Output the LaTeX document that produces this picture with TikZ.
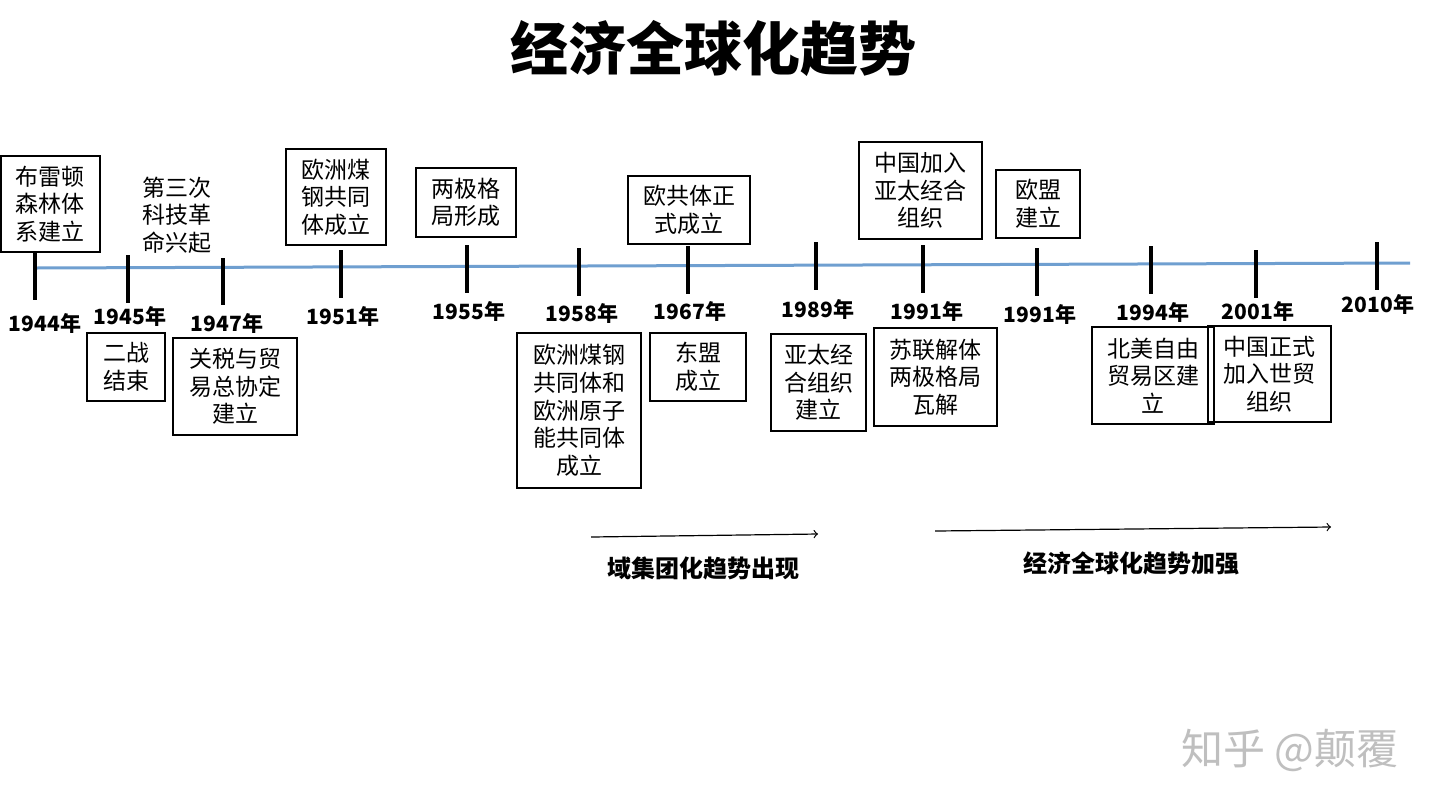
\documentclass[tikz,border=0pt]{standalone}
\usepackage{fontspec}
\setmainfont{Noto Sans CJK SC}
\begin{document}
\begin{tikzpicture}[x=0.5pt,y=-0.5pt,
  bx/.style={draw,thick,align=center,inner sep=0pt,font=\fontsize{11.5}{13.8}\selectfont},
  yr/.style={font=\bfseries\fontsize{10.5}{12}\selectfont},
  tk/.style={line width=1.6pt},
  lb/.style={font=\bfseries\fontsize{12}{13}\selectfont}]
\useasboundingbox[fill=white] (0,0) rectangle (1440,810);
\node[font=\bfseries\fontsize{29}{32}\selectfont] (title) at (713,48) {经济全球化趋势};
\coordinate (L0) at (35,268); \coordinate (L1) at (1410,263);
\draw[line width=1.5pt,color={rgb,255:red,111;green,159;blue,208}] (L0) -- (L1);
\foreach \n/\x/\t/\b/\lx/\ly/\yy in {a/35/253/300/45/323/1944,b/128/255/303/130/316/1945,c/223/258/305/227/323/1947,d/341/250/298/343/316/1951,e/467/245/293/469/311/1955,f/579/248/296/582/313/1958,g/688/246/294/690/311/1967,h/816/242/290/818/309/1989,i/923/245/293/927/311/1991,j/1037/248/296/1040/314/1991,k/1151/246/294/1153/312/1994,l/1256/250/298/1258/311/2001,m/1377/242/290/1378/304/2010}{
  \coordinate (t\n) at (\x,\t); \coordinate (u\n) at (\x,\b);
  \draw[tk] (t\n) -- (u\n);
  \node[yr] (y\n) at (\lx,\ly) {\yy 年};
}
\newcommand{\bxn}[6]{\node[bx,minimum width={(#4-#2)*0.5pt},minimum height={(#5-#3)*0.5pt}] (#1) at ({(#2+#4)/2},{(#3+#5)/2}) {#6};}
\bxn{b1}{1}{156}{100}{252}{布雷顿\\森林体\\系建立}
\node[font=\fontsize{11.5}{13.8}\selectfont,align=center] (b2) at (177,215) {第三次\\科技革\\命兴起};
\bxn{b3}{286}{149}{386}{245}{欧洲煤\\钢共同\\体成立}
\bxn{b4}{416}{168}{516}{237}{两极格\\局形成}
\bxn{b5}{628}{176}{750}{244}{欧共体正\\式成立}
\bxn{b6}{859}{142}{982}{239}{中国加入\\亚太经合\\组织}
\bxn{b7}{996}{170}{1080}{238}{欧盟\\建立}
\bxn{c1}{87}{333}{165}{401}{二战\\结束}
\bxn{c2}{173}{338}{297}{435}{关税与贸\\易总协定\\建立}
\bxn{c3}{517}{333}{641}{488}{欧洲煤钢\\共同体和\\欧洲原子\\能共同体\\成立}
\bxn{c4}{650}{333}{746}{401}{东盟\\成立}
\bxn{c5}{771}{334}{866}{431}{亚太经\\合组织\\建立}
\bxn{c6}{874}{328}{997}{426}{苏联解体\\两极格局\\瓦解}
\bxn{c7}{1092}{327}{1214}{424}{北美自由\\贸易区建\\立}
\bxn{c8}{1208}{326}{1331}{422}{中国正式\\加入世贸\\组织}
\coordinate (a1s) at (591,537); \coordinate (a1e) at (818,534);
\coordinate (a2s) at (935,531); \coordinate (a2e) at (1331,527);
\draw[->,semithick] (a1s) -- (a1e);
\draw[->,semithick] (a2s) -- (a2e);
\node[lb] (l1) at (703,568) {域集团化趋势出现};
\node[lb] (l2) at (1131,563) {经济全球化趋势加强};
\node[text=gray!50,font=\fontsize{21}{24}\selectfont] (wm) at (1290,750) {知乎 @颠覆};
\end{tikzpicture}
\end{document}
